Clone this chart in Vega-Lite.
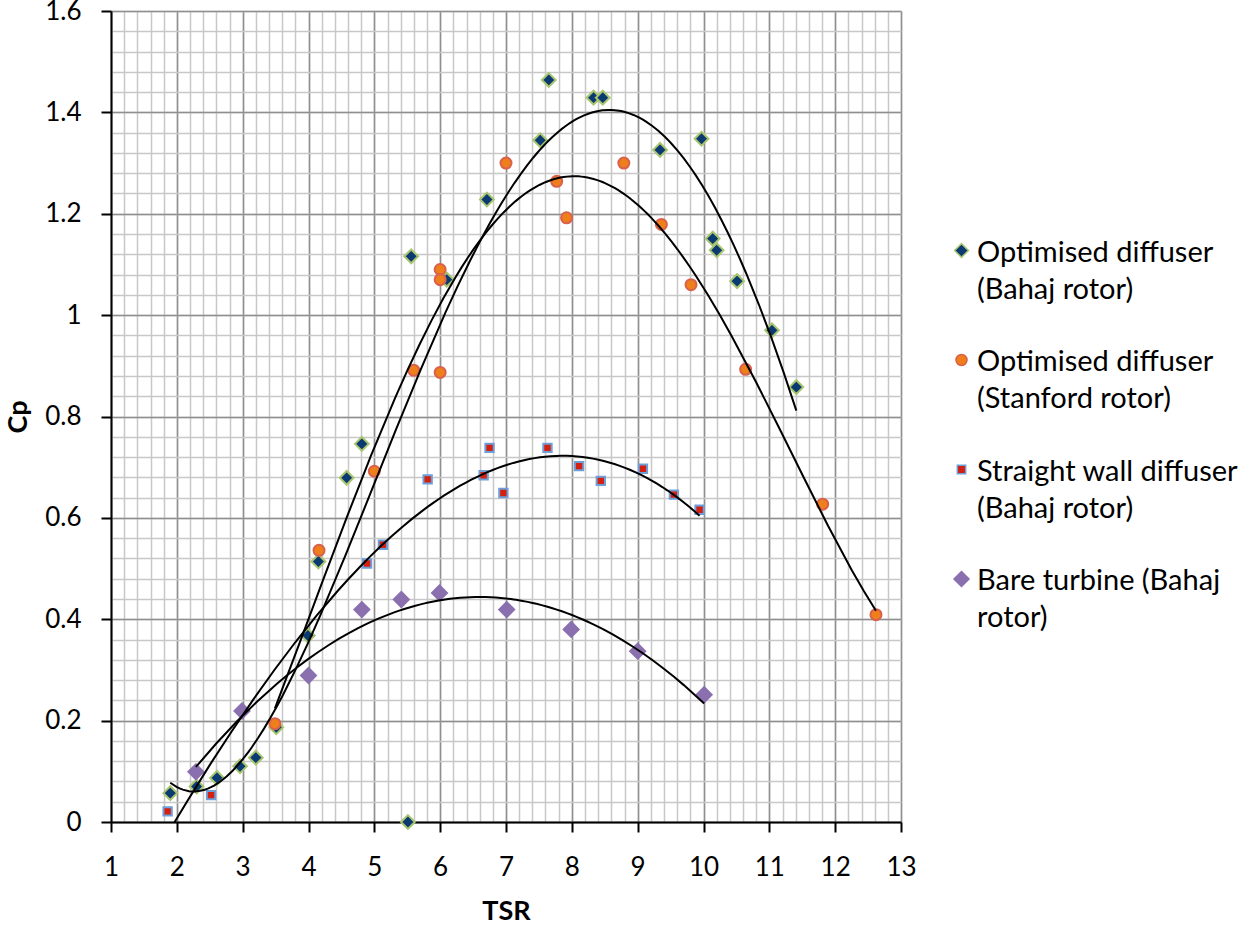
{
  "$schema": "https://vega.github.io/schema/vega-lite/v6.json",
  "width": 790,
  "height": 811,
  "autosize": {"type": "none"},
  "padding": {"left": 111, "top": 11, "right": 348, "bottom": 104},
  "background": "white",
  "config": {
    "view": {"stroke": null},
    "font": "Lato",
    "axis": {"labelFont": "Lato", "titleFont": "Lato", "labelColor": "#000000", "titleColor": "#000000", "labelFlush": false}
  },
  "data": {
    "values": [
      {"series": "Optimised diffuser (Bahaj rotor)", "TSR": 1.90, "Cp": 0.057},
      {"series": "Optimised diffuser (Bahaj rotor)", "TSR": 2.30, "Cp": 0.070},
      {"series": "Optimised diffuser (Bahaj rotor)", "TSR": 2.61, "Cp": 0.087},
      {"series": "Optimised diffuser (Bahaj rotor)", "TSR": 2.96, "Cp": 0.110},
      {"series": "Optimised diffuser (Bahaj rotor)", "TSR": 3.20, "Cp": 0.127},
      {"series": "Optimised diffuser (Bahaj rotor)", "TSR": 3.51, "Cp": 0.187},
      {"series": "Optimised diffuser (Bahaj rotor)", "TSR": 3.99, "Cp": 0.368},
      {"series": "Optimised diffuser (Bahaj rotor)", "TSR": 4.15, "Cp": 0.514},
      {"series": "Optimised diffuser (Bahaj rotor)", "TSR": 4.58, "Cp": 0.679},
      {"series": "Optimised diffuser (Bahaj rotor)", "TSR": 4.81, "Cp": 0.746},
      {"series": "Optimised diffuser (Bahaj rotor)", "TSR": 5.51, "Cp": 0.0},
      {"series": "Optimised diffuser (Bahaj rotor)", "TSR": 5.56, "Cp": 1.116},
      {"series": "Optimised diffuser (Bahaj rotor)", "TSR": 6.10, "Cp": 1.070},
      {"series": "Optimised diffuser (Bahaj rotor)", "TSR": 6.71, "Cp": 1.228},
      {"series": "Optimised diffuser (Bahaj rotor)", "TSR": 7.52, "Cp": 1.345},
      {"series": "Optimised diffuser (Bahaj rotor)", "TSR": 7.65, "Cp": 1.464},
      {"series": "Optimised diffuser (Bahaj rotor)", "TSR": 8.33, "Cp": 1.429},
      {"series": "Optimised diffuser (Bahaj rotor)", "TSR": 8.47, "Cp": 1.429},
      {"series": "Optimised diffuser (Bahaj rotor)", "TSR": 9.34, "Cp": 1.326},
      {"series": "Optimised diffuser (Bahaj rotor)", "TSR": 9.97, "Cp": 1.348},
      {"series": "Optimised diffuser (Bahaj rotor)", "TSR": 10.14, "Cp": 1.151},
      {"series": "Optimised diffuser (Bahaj rotor)", "TSR": 10.20, "Cp": 1.128},
      {"series": "Optimised diffuser (Bahaj rotor)", "TSR": 10.51, "Cp": 1.067},
      {"series": "Optimised diffuser (Bahaj rotor)", "TSR": 11.04, "Cp": 0.970},
      {"series": "Optimised diffuser (Bahaj rotor)", "TSR": 11.41, "Cp": 0.858},
      {"series": "Optimised diffuser (Stanford rotor)", "TSR": 3.49, "Cp": 0.194},
      {"series": "Optimised diffuser (Stanford rotor)", "TSR": 4.16, "Cp": 0.536},
      {"series": "Optimised diffuser (Stanford rotor)", "TSR": 5.00, "Cp": 0.692},
      {"series": "Optimised diffuser (Stanford rotor)", "TSR": 5.60, "Cp": 0.891},
      {"series": "Optimised diffuser (Stanford rotor)", "TSR": 6.00, "Cp": 1.090},
      {"series": "Optimised diffuser (Stanford rotor)", "TSR": 6.00, "Cp": 1.070},
      {"series": "Optimised diffuser (Stanford rotor)", "TSR": 6.00, "Cp": 0.887},
      {"series": "Optimised diffuser (Stanford rotor)", "TSR": 7.00, "Cp": 1.300},
      {"series": "Optimised diffuser (Stanford rotor)", "TSR": 7.77, "Cp": 1.264},
      {"series": "Optimised diffuser (Stanford rotor)", "TSR": 7.92, "Cp": 1.192},
      {"series": "Optimised diffuser (Stanford rotor)", "TSR": 8.79, "Cp": 1.300},
      {"series": "Optimised diffuser (Stanford rotor)", "TSR": 9.36, "Cp": 1.179},
      {"series": "Optimised diffuser (Stanford rotor)", "TSR": 9.81, "Cp": 1.060},
      {"series": "Optimised diffuser (Stanford rotor)", "TSR": 10.64, "Cp": 0.893},
      {"series": "Optimised diffuser (Stanford rotor)", "TSR": 11.81, "Cp": 0.627},
      {"series": "Optimised diffuser (Stanford rotor)", "TSR": 12.62, "Cp": 0.409},
      {"series": "Straight wall diffuser (Bahaj rotor)", "TSR": 1.86, "Cp": 0.021},
      {"series": "Straight wall diffuser (Bahaj rotor)", "TSR": 2.52, "Cp": 0.053},
      {"series": "Straight wall diffuser (Bahaj rotor)", "TSR": 4.89, "Cp": 0.510},
      {"series": "Straight wall diffuser (Bahaj rotor)", "TSR": 5.13, "Cp": 0.547},
      {"series": "Straight wall diffuser (Bahaj rotor)", "TSR": 5.81, "Cp": 0.676},
      {"series": "Straight wall diffuser (Bahaj rotor)", "TSR": 6.66, "Cp": 0.684},
      {"series": "Straight wall diffuser (Bahaj rotor)", "TSR": 6.75, "Cp": 0.738},
      {"series": "Straight wall diffuser (Bahaj rotor)", "TSR": 6.96, "Cp": 0.649},
      {"series": "Straight wall diffuser (Bahaj rotor)", "TSR": 7.63, "Cp": 0.738},
      {"series": "Straight wall diffuser (Bahaj rotor)", "TSR": 8.11, "Cp": 0.702},
      {"series": "Straight wall diffuser (Bahaj rotor)", "TSR": 8.44, "Cp": 0.673},
      {"series": "Straight wall diffuser (Bahaj rotor)", "TSR": 9.08, "Cp": 0.697},
      {"series": "Straight wall diffuser (Bahaj rotor)", "TSR": 9.55, "Cp": 0.646},
      {"series": "Straight wall diffuser (Bahaj rotor)", "TSR": 9.94, "Cp": 0.616},
      {"series": "Bare turbine (Bahaj rotor)", "TSR": 2.29, "Cp": 0.099},
      {"series": "Bare turbine (Bahaj rotor)", "TSR": 2.99, "Cp": 0.219},
      {"series": "Bare turbine (Bahaj rotor)", "TSR": 4.00, "Cp": 0.289},
      {"series": "Bare turbine (Bahaj rotor)", "TSR": 4.81, "Cp": 0.419},
      {"series": "Bare turbine (Bahaj rotor)", "TSR": 5.41, "Cp": 0.439},
      {"series": "Bare turbine (Bahaj rotor)", "TSR": 5.99, "Cp": 0.452},
      {"series": "Bare turbine (Bahaj rotor)", "TSR": 7.01, "Cp": 0.419},
      {"series": "Bare turbine (Bahaj rotor)", "TSR": 7.99, "Cp": 0.380},
      {"series": "Bare turbine (Bahaj rotor)", "TSR": 9.00, "Cp": 0.337},
      {"series": "Bare turbine (Bahaj rotor)", "TSR": 10.01, "Cp": 0.251}
    ]
  },
  "layer": [
    {
      "mark": {"type": "point", "opacity": 0},
      "encoding": {
        "x": {"field": "TSR", "type": "quantitative", "scale": {"domain": [1, 13], "nice": false},
          "axis": {"orient": "bottom", "values": [1,1.2,1.4,1.6,1.8,2,2.2,2.4,2.6,2.8,3,3.2,3.4,3.6,3.8,4,4.2,4.4,4.6,4.8,5,5.2,5.4,5.6,5.8,6,6.2,6.4,6.6,6.8,7,7.2,7.4,7.6,7.8,8,8.2,8.4,8.6,8.8,9,9.2,9.4,9.6,9.8,10,10.2,10.4,10.6,10.8,11,11.2,11.4,11.6,11.8,12,12.2,12.4,12.6,12.8,13],
            "grid": true, "gridColor": "#C8C8C8", "gridWidth": 1.5, "gridOpacity": 1, "labels": false, "ticks": false, "domain": false, "title": null}},
        "y": {"field": "Cp", "type": "quantitative", "scale": {"domain": [0, 1.6], "nice": false},
          "axis": {"orient": "left", "values": [0,0.04,0.08,0.12,0.16,0.2,0.24,0.28,0.32,0.36,0.4,0.44,0.48,0.52,0.56,0.6,0.64,0.68,0.72,0.76,0.8,0.84,0.88,0.92,0.96,1,1.04,1.08,1.12,1.16,1.2,1.24,1.28,1.32,1.36,1.4,1.44,1.48,1.52,1.56,1.6],
            "grid": true, "gridColor": "#C8C8C8", "gridWidth": 1.5, "gridOpacity": 1, "labels": false, "ticks": false, "domain": false, "title": null}}
      }
    },
    {
      "mark": {"type": "point", "filled": true, "strokeWidth": 2, "opacity": 1},
      "encoding": {
        "x": {"field": "TSR", "type": "quantitative", "scale": {"domain": [1, 13], "nice": false},
          "axis": {"orient": "bottom", "values": [1,2,3,4,5,6,7,8,9,10,11,12,13], "grid": true, "gridColor": "#8F8F8F", "gridWidth": 1.5, "gridOpacity": 1,
            "domainColor": "#000000", "domainWidth": 2, "tickColor": "#000000", "tickWidth": 2, "tickSize": 10,
            "labelFontSize": 26, "labelPadding": 22, "title": "TSR", "titleFontSize": 27, "titleFontWeight": "bold", "titlePadding": 18}},
        "y": {"field": "Cp", "type": "quantitative", "scale": {"domain": [0, 1.6], "nice": false},
          "axis": {"orient": "left", "values": [0,0.2,0.4,0.6,0.8,1,1.2,1.4,1.6], "format": "~g", "grid": true, "gridColor": "#8F8F8F", "gridWidth": 1.5, "gridOpacity": 1,
            "domainColor": "#000000", "domainWidth": 2, "tickColor": "#000000", "tickWidth": 2, "tickSize": 10,
            "labelFontSize": 26, "labelPadding": 20, "title": "Cp", "titleFontSize": 27, "titleFontWeight": "bold", "titlePadding": 12}},
        "shape": {"field": "series", "type": "nominal",
          "scale": {"domain": ["Optimised diffuser (Bahaj rotor)", "Optimised diffuser (Stanford rotor)", "Straight wall diffuser (Bahaj rotor)", "Bare turbine (Bahaj rotor)"], "range": ["diamond", "circle", "square", "diamond"]},
          "legend": {"title": null, "orient": "none", "legendX": 836, "legendY": 225, "labelFont": "Lato", "labelFontSize": 29, "labelColor": "#000000", "labelLimit": 0, "labelOffset": 1, "rowPadding": 40.5, "padding": 0,
            "labelExpr": "datum.label == 'Optimised diffuser (Bahaj rotor)' ? ['Optimised diffuser', '(Bahaj rotor)'] : datum.label == 'Optimised diffuser (Stanford rotor)' ? ['Optimised diffuser', '(Stanford rotor)'] : datum.label == 'Straight wall diffuser (Bahaj rotor)' ? ['Straight wall diffuser', '(Bahaj rotor)'] : ['Bare turbine (Bahaj', 'rotor)']",
            "encoding": {"labels": {"lineHeight": {"value": 37}, "dy": {"value": 2}}}}},
        "fill": {"field": "series", "type": "nominal",
          "scale": {"domain": ["Optimised diffuser (Bahaj rotor)", "Optimised diffuser (Stanford rotor)", "Straight wall diffuser (Bahaj rotor)", "Bare turbine (Bahaj rotor)"], "range": ["#0B3A73", "#EE7F1A", "#D42010", "#8A70AE"]},
          "legend": {"title": null, "orient": "none", "legendX": 836, "legendY": 225, "labelFont": "Lato", "labelFontSize": 29, "labelColor": "#000000", "labelLimit": 0, "labelOffset": 1, "rowPadding": 40.5, "padding": 0,
            "labelExpr": "datum.label == 'Optimised diffuser (Bahaj rotor)' ? ['Optimised diffuser', '(Bahaj rotor)'] : datum.label == 'Optimised diffuser (Stanford rotor)' ? ['Optimised diffuser', '(Stanford rotor)'] : datum.label == 'Straight wall diffuser (Bahaj rotor)' ? ['Straight wall diffuser', '(Bahaj rotor)'] : ['Bare turbine (Bahaj', 'rotor)']",
            "encoding": {"labels": {"lineHeight": {"value": 37}, "dy": {"value": 2}}}}},
        "stroke": {"field": "series", "type": "nominal",
          "scale": {"domain": ["Optimised diffuser (Bahaj rotor)", "Optimised diffuser (Stanford rotor)", "Straight wall diffuser (Bahaj rotor)", "Bare turbine (Bahaj rotor)"], "range": ["#A9C66E", "#D9614D", "#6F9FD8", "#8A70AE"]},
          "legend": {"title": null, "orient": "none", "legendX": 836, "legendY": 225, "labelFont": "Lato", "labelFontSize": 29, "labelColor": "#000000", "labelLimit": 0, "labelOffset": 1, "rowPadding": 40.5, "padding": 0,
            "labelExpr": "datum.label == 'Optimised diffuser (Bahaj rotor)' ? ['Optimised diffuser', '(Bahaj rotor)'] : datum.label == 'Optimised diffuser (Stanford rotor)' ? ['Optimised diffuser', '(Stanford rotor)'] : datum.label == 'Straight wall diffuser (Bahaj rotor)' ? ['Straight wall diffuser', '(Bahaj rotor)'] : ['Bare turbine (Bahaj', 'rotor)']",
            "encoding": {"labels": {"lineHeight": {"value": 37}, "dy": {"value": 2}}}}},
        "size": {"field": "series", "type": "nominal",
          "scale": {"type": "ordinal", "domain": ["Optimised diffuser (Bahaj rotor)", "Optimised diffuser (Stanford rotor)", "Straight wall diffuser (Bahaj rotor)", "Bare turbine (Bahaj rotor)"], "range": [190, 121, 70, 225]},
          "legend": {"title": null, "orient": "none", "legendX": 836, "legendY": 225, "labelFont": "Lato", "labelFontSize": 29, "labelColor": "#000000", "labelLimit": 0, "labelOffset": 1, "rowPadding": 40.5, "padding": 0,
            "labelExpr": "datum.label == 'Optimised diffuser (Bahaj rotor)' ? ['Optimised diffuser', '(Bahaj rotor)'] : datum.label == 'Optimised diffuser (Stanford rotor)' ? ['Optimised diffuser', '(Stanford rotor)'] : datum.label == 'Straight wall diffuser (Bahaj rotor)' ? ['Straight wall diffuser', '(Bahaj rotor)'] : ['Bare turbine (Bahaj', 'rotor)']",
            "encoding": {"labels": {"lineHeight": {"value": 37}, "dy": {"value": 2}}}}}
      }
    },
    {
      "transform": [{"filter": "datum.series == 'Optimised diffuser (Bahaj rotor)'"}, {"regression": "Cp", "on": "TSR", "method": "poly", "order": 4}],
      "mark": {"type": "line", "color": "#000000", "strokeWidth": 2, "clip": true},
      "encoding": {"x": {"field": "TSR", "type": "quantitative", "scale": {"domain": [1, 13], "nice": false}, "axis": null}, "y": {"field": "Cp", "type": "quantitative", "scale": {"domain": [0, 1.6], "nice": false}, "axis": null}}
    },
    {
      "transform": [{"filter": "datum.series == 'Optimised diffuser (Stanford rotor)'"}, {"regression": "Cp", "on": "TSR", "method": "poly", "order": 4}],
      "mark": {"type": "line", "color": "#000000", "strokeWidth": 2, "clip": true},
      "encoding": {"x": {"field": "TSR", "type": "quantitative", "scale": {"domain": [1, 13], "nice": false}, "axis": null}, "y": {"field": "Cp", "type": "quantitative", "scale": {"domain": [0, 1.6], "nice": false}, "axis": null}}
    },
    {
      "transform": [{"filter": "datum.series == 'Straight wall diffuser (Bahaj rotor)'"}, {"regression": "Cp", "on": "TSR", "method": "poly", "order": 3}],
      "mark": {"type": "line", "color": "#000000", "strokeWidth": 2, "clip": true},
      "encoding": {"x": {"field": "TSR", "type": "quantitative", "scale": {"domain": [1, 13], "nice": false}, "axis": null}, "y": {"field": "Cp", "type": "quantitative", "scale": {"domain": [0, 1.6], "nice": false}, "axis": null}}
    },
    {
      "transform": [{"filter": "datum.series == 'Bare turbine (Bahaj rotor)'"}, {"regression": "Cp", "on": "TSR", "method": "poly", "order": 2}],
      "mark": {"type": "line", "color": "#000000", "strokeWidth": 2, "clip": true},
      "encoding": {"x": {"field": "TSR", "type": "quantitative", "scale": {"domain": [1, 13], "nice": false}, "axis": null}, "y": {"field": "Cp", "type": "quantitative", "scale": {"domain": [0, 1.6], "nice": false}, "axis": null}}
    }
  ],
  "resolve": {"axis": {"x": "independent", "y": "independent"}}
}
